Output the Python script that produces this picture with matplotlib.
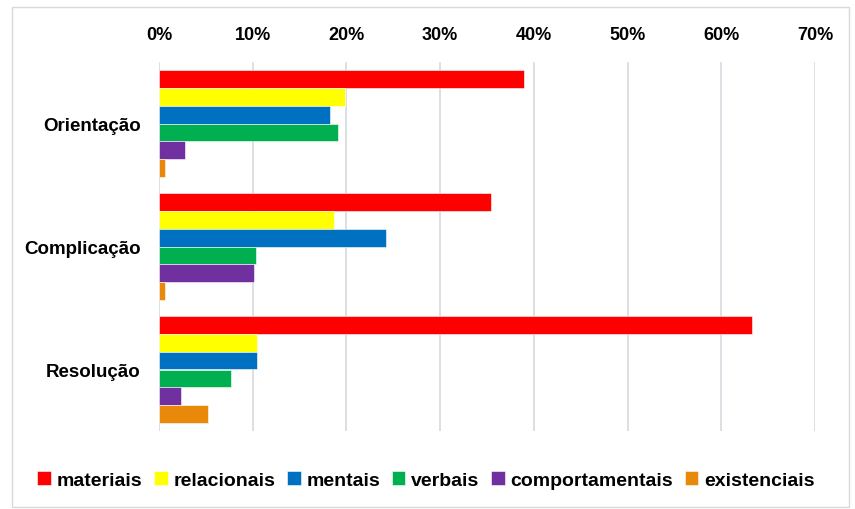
import matplotlib
matplotlib.use("Agg")
import matplotlib.pyplot as plt
from matplotlib.patches import Rectangle
import numpy as np

categories = ["Orientação", "Complicação", "Resolução"]
series_names = ["materiais", "relacionais", "mentais", "verbais", "comportamentais", "existenciais"]
materiais = [0.39, 0.354, 0.633]
relacionais = [0.199, 0.187, 0.105]
mentais = [0.183, 0.242, 0.105]
verbais = [0.191, 0.104, 0.077]
comportamentais = [0.028, 0.101, 0.024]
existenciais = [0.006, 0.006, 0.052]
tick_values = [0, 0.1, 0.2, 0.3, 0.4, 0.5, 0.6, 0.7]
tick_labels = ["0%", "10%", "20%", "30%", "40%", "50%", "60%", "70%"]

values = [materiais, relacionais, mentais, verbais, comportamentais, existenciais]
colors = ["#FF0000", "#FFFF00", "#0070C0", "#00B050", "#7030A0", "#E8890C"]

sans = ["Liberation Sans", "DejaVu Sans"]

fig = plt.figure(figsize=(8.55, 5.1), dpi=100)
W, H = 855, 510
ax = fig.add_axes([159 / W, (H - 432) / H, (815 - 159) / W, (432 - 63) / H])

n = len(values)
group = 0.87
h = group / n
y = np.arange(len(categories))
for k, (vals, col, name) in enumerate(zip(values, colors, series_names)):
    off = (k - (n - 1) / 2) * h
    ax.barh(y + off, vals, height=h, color=col, label=name,
            edgecolor="white", linewidth=0.4, zorder=3)

ax.set_xlim(0, 0.7)
ax.set_ylim(len(categories) - 0.5, -0.5)
ax.set_xticks(tick_values)
ax.set_xticklabels(tick_labels)
ax.xaxis.tick_top()
ax.tick_params(axis="x", length=0, pad=14)
ax.tick_params(axis="y", length=0, pad=13)
for lab in ax.get_xticklabels():
    lab.set_fontfamily(sans)
    lab.set_fontweight("bold")
    lab.set_fontsize(13)
ax.set_yticks(y)
ax.set_yticklabels(categories, fontsize=13.5, fontweight="bold", family=sans)
ax.grid(axis="x", color="#D9DDE3", linewidth=1.3, zorder=0)
for s in ax.spines.values():
    s.set_visible(False)

handles, labels = ax.get_legend_handles_labels()
leg = fig.legend(handles, labels, loc="center", bbox_to_anchor=(426 / W, 1 - 481 / H),
                 ncol=6, frameon=False, handlelength=0.7, handleheight=0.7,
                 handletextpad=0.3, columnspacing=0.6,
                 prop={"family": sans, "weight": "bold", "size": 14})

fig.patches.append(Rectangle((12 / W, 2 / H), (849 - 12) / W, (508 - 8) / H,
                             transform=fig.transFigure, fill=False,
                             edgecolor="#D9D9D9", linewidth=1))

fig.savefig("out.png", dpi=100)
